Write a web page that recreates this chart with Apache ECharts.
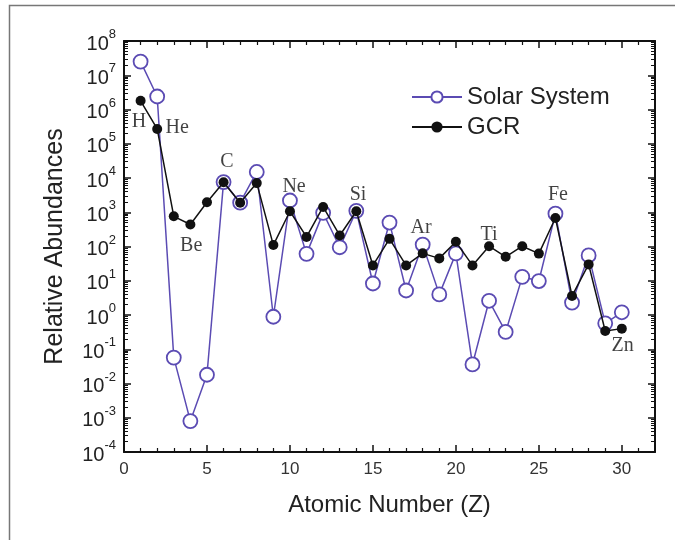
<!DOCTYPE html>
<html><head><meta charset="utf-8">
<script src="https://cdn.jsdelivr.net/npm/echarts@6/dist/echarts.min.js"></script>
<style>html,body{margin:0;padding:0;background:#fff}#c{width:675px;height:540px}</style>
</head><body><div id="c"></div>
<script>
const atomicNumbers = [1,2,3,4,5,6,7,8,9,10,11,12,13,14,15,16,17,18,19,20,21,22,23,24,25,26,27,28,29,30];
const solarSystem = [2.5e7,2.4e6,0.057,8e-4,0.018,7.6e3,1.9e3,1.5e4,0.89,2.2e3,61,960,95,1.1e3,8.3,500,5.2,114,4.0,63,0.036,2.6,0.32,13,9.8,910,2.3,55,0.57,1.2];
const gcr = [1.8e6,2.7e5,760,440,1.95e3,7.5e3,1.9e3,7.1e3,110,1.07e3,190,1.43e3,210,1.07e3,28,167,28,63,45,137,28,102,50,102,62,680,3.6,30,0.34,0.40];
const elementNames = ['H','He','Be','C','Ne','Si','Ar','Ti','Fe','Zn'];
const elementX = [0.9,3.2,4.05,6.2,10.25,14.1,17.9,22.0,26.15,30.05];
const elementY = [4.5e5,2.9e5,102,2.9e4,5.6e3,3.3e3,350,224,3.3e3,0.125];
const xTicks = {min:0, max:32, interval:5};
const yExtent = {min:1e-4, max:1e8};

const chart = echarts.init(document.getElementById('c'), null, {renderer:'canvas'});
const sans = 'Liberation Sans, Arial, sans-serif';
const serif = 'Liberation Serif, Times New Roman, serif';
const purple = '#5b4bb3';

function pairs(xs, ys){ return xs.map((x,i)=>[x, ys[i]]); }

const yLabel = {
  show:true, margin:8,
  formatter: v => { const e = Math.round(Math.log10(v)); return '{b|10}{s|' + e + '}'; },
  rich: {
    b:{fontSize:20, fontFamily:sans, color:'#222', lineHeight:26, verticalAlign:'bottom'},
    s:{fontSize:13, fontFamily:sans, color:'#222', lineHeight:26, verticalAlign:'top'}
  }
};

const tickStyle = {inside:true, length:7, lineStyle:{color:'#111', width:1.5}};

chart.setOption({
  animation:false,
  backgroundColor:'#fff',
  graphic:[{type:'rect', left:7, top:3, shape:{width:690, height:560}, style:{fill:'none', stroke:'#777', lineWidth:1.5}, silent:true}],
  grid:{left:124, right:20, top:41, bottom:88, containLabel:false},
  legend:{
    orient:'vertical', left:406, top:80, itemWidth:50, itemHeight:14, itemGap:6,
    textStyle:{fontSize:24, fontFamily:sans, color:'#222'},
    data:['Solar System','GCR']
  },
  xAxis:[{
    type:'value', min:xTicks.min, max:xTicks.max, interval:xTicks.interval,
    name:'Atomic Number (Z)', nameLocation:'middle', nameGap:41,
    nameTextStyle:{fontSize:24, fontFamily:sans, color:'#222'},
    axisLine:{onZero:false, lineStyle:{color:'#111', width:2}},
    axisTick:tickStyle,
    minorTick:{show:true, splitNumber:5, length:4, lineStyle:{color:'#111', width:1.2}},
    axisLabel:{fontSize:17, fontFamily:sans, color:'#333', margin:9,
      formatter: v => (v % 5 === 0 && v <= 30) ? String(v) : ''},
    splitLine:{show:false}
  },{
    type:'value', position:'top', min:xTicks.min, max:xTicks.max, interval:xTicks.interval,
    axisLine:{onZero:false, lineStyle:{color:'#111', width:2}},
    axisTick:tickStyle,
    minorTick:{show:true, splitNumber:5, length:4, lineStyle:{color:'#111', width:1.2}},
    axisLabel:{show:false}, splitLine:{show:false}
  }],
  yAxis:[{
    type:'log', logBase:10, min:yExtent.min, max:yExtent.max, interval:1,
    name:'Relative Abundances', nameLocation:'middle', nameGap:56, nameRotate:90,
    nameTextStyle:{fontSize:25, fontFamily:sans, color:'#222'},
    axisLine:{onZero:false, lineStyle:{color:'#111', width:2}},
    axisTick:tickStyle,
    minorTick:{show:true, splitNumber:9, length:4, lineStyle:{color:'#111', width:1}},
    axisLabel:yLabel,
    splitLine:{show:false}
  },{
    type:'log', logBase:10, position:'right', min:yExtent.min, max:yExtent.max, interval:1,
    axisLine:{onZero:false, lineStyle:{color:'#111', width:2}},
    axisTick:tickStyle,
    minorTick:{show:true, splitNumber:9, length:4, lineStyle:{color:'#111', width:1}},
    axisLabel:{show:false}, splitLine:{show:false}
  }],
  series:[{
    name:'Solar System', type:'line', data:pairs(atomicNumbers, solarSystem),
    symbol:'circle', symbolSize:14, showAllSymbol:true,
    lineStyle:{color:purple, width:1.5},
    itemStyle:{color:'#fff', borderColor:purple, borderWidth:1.8},
    z:2
  },{
    name:'GCR', type:'line', data:pairs(atomicNumbers, gcr),
    symbol:'circle', symbolSize:10, showAllSymbol:true,
    lineStyle:{color:'#111', width:1.5},
    itemStyle:{color:'#111', borderColor:'#111', borderWidth:0},
    z:3
  },{
    name:'labels', type:'scatter', data:elementNames.map((n,i)=>({value:[elementX[i], elementY[i]], name:n})),
    symbolSize:0, silent:true, z:4,
    label:{show:true, position:'inside', formatter: p => p.name,
      fontSize:20, fontFamily:serif, color:'#111'}
  }]
});
</script></body></html>
